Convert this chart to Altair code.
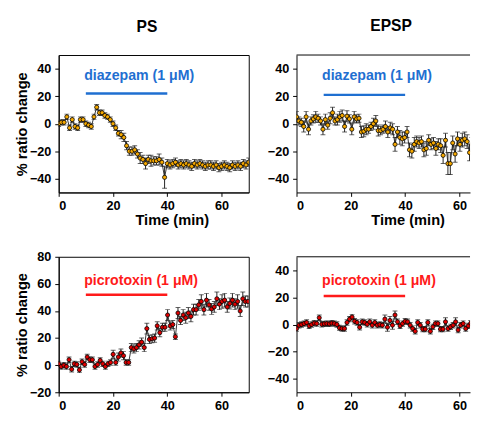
import altair as alt
import pandas as pd

# ---------------- data ----------------
# Diazepam, PS (% ratio change), ~1 min sampling
ps_dz = [0, 1, 1, 5, -3, 3, -2, -3, 3, 3, 0, -1, -2, 5, 12, 8, 8, 6, 5, 3,
         0, -3, -7, -8, -10, -16, -20, -20, -19, -22, -25, -26, -29, -26, -27, -27, -27, -26, -28, -39,
         -29, -30, -29, -28, -30, -29, -30, -29, -30, -31, -29, -30, -29, -30, -31, -30, -30, -31, -30, -32,
         -31, -30, -31, -32, -30, -31, -30, -31, -29, -30, -28]
ps_dz_err = [2, 2, 2, 2, 2, 2, 2, 2, 2, 2, 2, 2, 2, 2, 2, 2, 2, 2, 2, 2,
             2, 2, 2, 3, 3, 3, 3, 3, 3, 3, 4, 3, 4, 3, 4, 3, 3, 4, 3, 8,
             3, 3, 3, 3, 3, 3, 3, 3, 3, 3, 3, 3, 3, 3, 3, 3, 3, 3, 3, 3,
             3, 3, 3, 3, 3, 3, 3, 3, 3, 3, 3]
ps_dz_step = 1.0

# Diazepam, EPSP
ep_dz = [5, 2, 1, -2, 5, -4, 2, 3.5, 5, 4, 2, -4, 3, -1, 4, 8, 2, 3, 5, 6,
         -2, 5.5, 3.5, -4, 5, 3.5, 4, -6, -5.5, -4, -4, -2, 0, 2, -5, -5, -4, -2, -6, -3,
         -4, -15, -6, -10, -11, -10, -6, -19, -20, -15, -13, -14, -13, -19, -18, -12, -15, -14, -18, -15,
         -16, -23, -12, -29, -29, -14, -22, -11, -15, -12, -11, -13, -21, -15, -12, -18, -14, -16, -13, -17]
ep_dz_err = [4, 3, 3, 4, 4, 4, 3, 3, 4, 3, 3, 4, 4, 3, 4, 4, 3, 4, 4, 4,
             4, 4, 3, 4, 4, 3, 3, 4, 4, 4, 3, 3, 4, 4, 4, 3, 3, 4, 4, 4,
             4, 5, 4, 5, 5, 4, 4, 5, 5, 5, 4, 4, 4, 5, 5, 4, 4, 4, 5, 4,
             5, 6, 5, 8, 8, 5, 6, 5, 5, 5, 5, 5, 6, 5, 5, 5, 5, 5, 5, 5]
ep_dz_step = 0.885

# Picrotoxin, PS
ps_pt = [1, -1, 0, -1, 4, -3, 1, 0.5, -3.5, 2.5, 0.5, 6, 4, 4, -1, 0.5, 3.5, 1, -1, 1,
         2, 8, 2, 6, 9, 7, 2, 2, 13, 12, 13, 15, 17, 13, 27, 19, 19.5, 20, 29, 24,
         28, 28, 37, 29, 30, 21, 38.5, 33, 37, 35, 38.5, 36, 41, 41, 44.5, 47, 41, 48, 44.5, 41.5,
         43, 49, 45, 47, 48, 43, 45.5, 48, 45, 47, 40, 49, 47, 47]
ps_pt_err = [2, 2, 2, 2, 2, 2, 2, 2, 2, 2, 2, 2, 2, 2, 2, 2, 2, 2, 2, 2,
             2, 3, 2, 3, 3, 3, 2, 2, 3, 3, 3, 3, 3, 3, 4, 3, 3, 3, 3, 3,
             3, 3, 4, 3, 3, 2, 4, 3, 4, 4, 4, 4, 4, 4, 4, 5, 4, 5, 4, 4,
             4, 5, 4, 5, 5, 4, 4, 5, 4, 5, 4, 5, 4, 4]
ps_pt_step = 0.955

# Picrotoxin, EPSP
ep_pt = [-3, -0.5, 0, 0.7, 1.5, -1, 0, 1, 0.7, 5, 0.2, 0.5, 0.7, 0.5, 1, 0.7, 0, -2.5, -3, -3,
         1.5, 4, 5.5, 2.4, 1.5, -2, 2, 1.5, 0.2, 2, -0.5, 1.5, -0.5, 0, -0.5, 4, -2, 3, -0.5, 7,
         2, -1, 0.7, 2.4, 2, -0.5, -3, -5, 1.5, -0.5, -3.4, -3.4, 1.5, -5, -1.7, 0.7, 0.7, -3.4, -3.4, 2,
         -3, -1.7, -0.5, 2, -4, -0.5, 0.7, -3, -1, 1, -2, 0, -1, 1]
ep_pt_err = [2, 2, 2, 2, 2, 2, 2, 2, 2, 2, 2, 2, 2, 2, 2, 2, 2, 2, 2, 2,
             2, 2, 2, 2, 2, 2, 2, 2, 2, 2, 2, 2, 2, 2, 2, 3, 3, 3, 3, 3,
             2, 2, 2, 2, 2, 2, 2, 2, 2, 2, 2, 2, 2, 2, 2, 2, 2, 2, 2, 3,
             2, 2, 2, 3, 2, 2, 2, 2, 2, 2, 2, 2, 2, 2]
ep_pt_step = 0.93

panel_titles = ["PS", "EPSP"]
drug_labels = ["diazepam (1 μM)", "picrotoxin (1 μM)"]
drug_period = [10, 40]
x_ticks = [0, 20, 40, 60]
y_ticks_a = [-40, -20, 0, 20, 40]
y_ticks_b = [-20, 0, 20, 40, 60, 80]

FONT = "Liberation Sans"
BLUE = "#1f6fd1"
RED = "#ff1a1a"
ORANGE = "#f5a800"
PT_RED = "#e00000"


def frame(vals, errs, step):
    t = [i * step for i in range(len(vals))]
    return pd.DataFrame({"t": t, "v": vals,
                         "lo": [v - e for v, e in zip(vals, errs)],
                         "hi": [v + e for v, e in zip(vals, errs)]})


def make(df, fill, label, lcolor, ydom, yticks, width, xmax, height, title=None,
         ytitle=False, label_y=35, bar_y=22, xtitle_x=115, cut=False, title_dx=0):
    xs = alt.Scale(domain=[0, xmax], nice=False)
    ys = alt.Scale(domain=ydom, nice=False)
    xax = alt.Axis(values=x_ticks, tickCount=10, title="Time (min)", grid=False,
                   titleX=xtitle_x, labelOverlap=False, titlePadding=0)
    yax = alt.Axis(values=yticks, tickCount=12, grid=False, labelOverlap=False,
                   title="% ratio change" if ytitle else None, titlePadding=0)
    base = alt.Chart(df)
    line = base.mark_line(color="black", strokeWidth=0.8, clip=True).encode(
        x=alt.X("t:Q", scale=xs, axis=xax), y=alt.Y("v:Q", scale=ys, axis=yax))
    err = base.mark_rule(color="#222", strokeWidth=1, clip=True).encode(
        x="t:Q", y="lo:Q", y2="hi:Q")
    cap_lo = base.mark_tick(color="#222", size=5, thickness=1, orient="horizontal", clip=True).encode(
        x="t:Q", y="lo:Q")
    cap_hi = base.mark_tick(color="#222", size=5, thickness=1, orient="horizontal", clip=True).encode(
        x="t:Q", y="hi:Q")
    pts = base.mark_point(shape="circle", filled=True, fill=fill, stroke="black",
                          strokeWidth=0.8, size=18, opacity=1, clip=True).encode(
        x="t:Q", y="v:Q")
    ann = pd.DataFrame({"x": [drug_period[0] - 0.6], "y": [label_y], "s": [label]})
    txt = alt.Chart(ann).mark_text(align="left", baseline="middle", font=FONT,
                                   fontWeight="bold", fontSize=14.5, color=lcolor).encode(
        x="x:Q", y="y:Q", text="s:N")
    bar_df = pd.DataFrame({"x": [drug_period[0]], "x2": [drug_period[1]], "y": [bar_y]})
    bar = alt.Chart(bar_df).mark_rule(color=lcolor, strokeWidth=2.5).encode(
        x="x:Q", x2="x2:Q", y="y:Q")
    layers = [line, err, cap_lo, cap_hi, pts, bar, txt]
    if cut:
        top = alt.Chart(bar_df).mark_rule(color="black", strokeWidth=1).encode(
            x=alt.value(0), x2=alt.value(width), y=alt.value(0))
        layers.append(top)
    ch = alt.layer(*layers).properties(width=width, height=height)
    if title:
        ch = ch.properties(title=alt.TitleParams(title, fontSize=16, fontWeight="bold",
                                                 font=FONT, offset=21, dx=title_dx))
    if cut:
        ch = ch.properties(view=alt.ViewBackground(stroke=None))
    else:
        ch = ch.properties(view=alt.ViewBackground(stroke="black", strokeWidth=1))
    return ch


d1 = frame(ps_dz, ps_dz_err, ps_dz_step)
d2 = frame(ep_dz, ep_dz_err, ep_dz_step)
d3 = frame(ps_pt, ps_pt_err, ps_pt_step)
d4 = frame(ep_pt, ep_pt_err, ep_pt_step)

W_L, W_R = 195, 178
XMAX_R = 63.9

p1 = make(d1, ORANGE, drug_labels[0], BLUE, [-50, 50], y_ticks_a, W_L, 70, 141,
          title=panel_titles[0], ytitle=True, label_y=35, bar_y=22, xtitle_x=116, title_dx=-7)
p2 = make(d2, ORANGE, drug_labels[0], BLUE, [-50, 50], y_ticks_a, W_R, XMAX_R, 141,
          title=panel_titles[1], label_y=35, bar_y=21, xtitle_x=114, cut=True, title_dx=8)
p3 = make(d3, PT_RED, drug_labels[1], RED, [-20, 80], y_ticks_b, W_L, 70, 139,
          ytitle=True, label_y=62, bar_y=52, xtitle_x=114)
p4 = make(d4, PT_RED, drug_labels[1], RED, [-50, 50], y_ticks_a, W_R, XMAX_R, 139,
          label_y=32, bar_y=21, xtitle_x=114, cut=True)

row1 = alt.hconcat(p1, p2, spacing=49, bounds="flush")
row2 = alt.hconcat(p3, p4, spacing=49, bounds="flush")
chart = alt.vconcat(row1, row2, spacing=22).properties(
    padding={"left": 6, "top": 5, "right": 0, "bottom": -22}
).configure_axis(
    labelFont=FONT, labelFontWeight="bold", labelFontSize=13, labelColor="black",
    titleFont=FONT, titleFontWeight="bold", titleFontSize=15, titleColor="black",
    domainColor="black", tickColor="black", tickSize=4, labelPadding=4,
    domainWidth=1
).configure_view(stroke="black")

chart.save("out.html", embed_options={"renderer": "svg", "actions": False})
